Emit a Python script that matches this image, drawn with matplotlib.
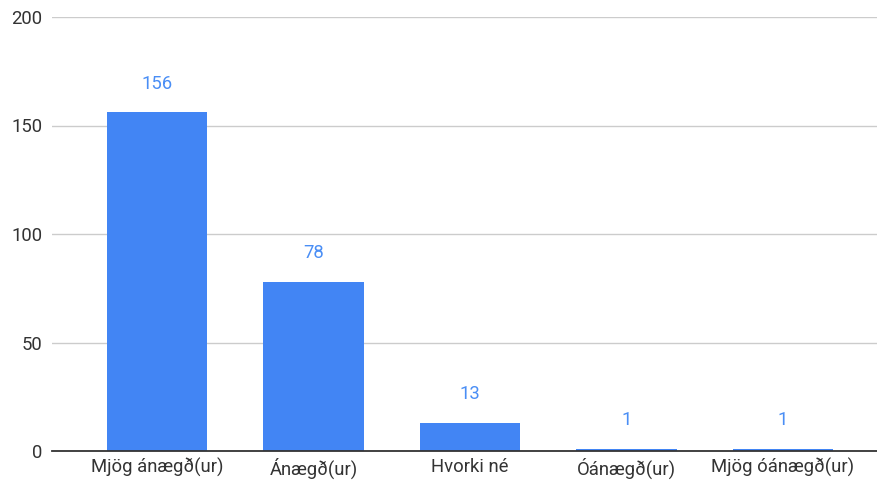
import matplotlib
matplotlib.use("Agg")
import matplotlib.pyplot as plt

categories = ["Mjög ánægð(ur)", "Ánægð(ur)", "Hvorki né", "Óánægð(ur)", "Mjög óánægð(ur)"]
values = [156, 78, 13, 1, 1]
yticks = [0, 50, 100, 150, 200]

plt.rcParams['font.family'] = ['Roboto', 'DejaVu Sans']

W, H = 878, 482
fig = plt.figure(figsize=(W/100, H/100), dpi=100)
left, right, top, bottom = 52, 878, 17, 451
ax = fig.add_axes([left/W, 1-bottom/H, (right-left)/W, (bottom-top)/H])

xs = list(range(len(categories)))
bar_color = "#4285F4"
ax.bar(xs, values, width=0.64, color=bar_color, zorder=3)
for x, v in zip(xs, values):
    ax.annotate(str(v), (x, v), xytext=(0, 20.5), textcoords="offset points",
                ha="center", va="center", fontsize=13.3, color="#4a8ef5")

ax.set_xlim(-0.671, 4.607)
ax.set_ylim(0, 200)
ax.set_yticks(yticks)
ax.set_yticklabels([str(t) for t in yticks])
ax.set_xticks(xs)
ax.set_xticklabels(categories)
ax.tick_params(axis='both', length=0, labelsize=13.3, colors="#333333")
ax.tick_params(axis='y', pad=7)
ax.tick_params(axis='x', pad=5)
ax.grid(axis='y', color="#cccccc", linewidth=1, zorder=0)
for s in ["top", "right", "left"]:
    ax.spines[s].set_visible(False)
ax.spines["bottom"].set_color("#333333")
ax.spines["bottom"].set_linewidth(1.3)
ax.spines["bottom"].set_zorder(4)

fig.savefig("out.png", dpi=100)
